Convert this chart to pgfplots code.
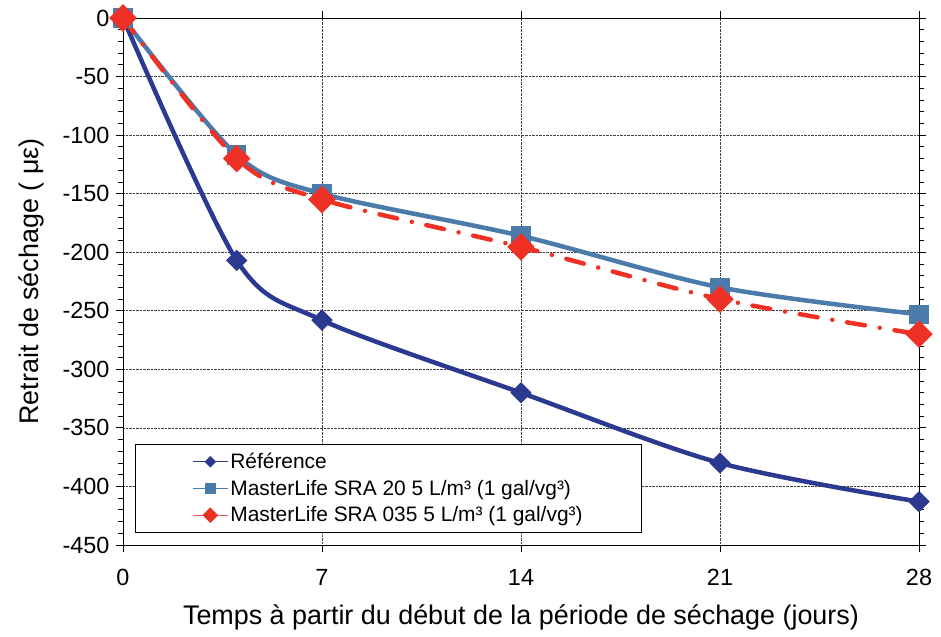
\documentclass[border=0pt]{standalone}
\usepackage{fontspec}
\setmainfont{Liberation Sans}
\usepackage{pgfplots}
\pgfplotsset{compat=1.18}
\definecolor{refblue}{HTML}{2B3990}
\definecolor{sratwenty}{HTML}{4A7BAA}
\definecolor{srared}{HTML}{EE3124}
\begin{document}
\begin{tikzpicture}
\begin{axis}[
  scale only axis, width=796bp, height=527bp,
  at={(0,0)}, anchor=south west,
  xmin=0, xmax=28, ymin=-450, ymax=0,
  xtick={0,7,14,21,28}, ytick={-450,-400,...,0},
  minor y tick num=4,
  tick align=outside, major tick length=7bp, minor tick length=5bp,
  tick style={black, line width=0.8pt},
  axis line style={black, line width=1pt},
  grid=major, major grid style={densely dotted, black!75, line width=0.7pt},
  tick label style={font=\fontsize{23.5}{27}\selectfont},
  /pgf/number format/assume math mode=true,
  xticklabel style={yshift=-14bp},
  yticklabel style={xshift=-3bp},
  xlabel={Temps à partir du début de la période de séchage (jours)},
  ylabel={Retrait de séchage ( με)},
  label style={font=\fontsize{27}{32}\selectfont},
  xlabel style={yshift=-12bp},
  ylabel style={yshift=12bp},
  clip=false,
  legend style={at={(0.015,0.023)}, anchor=south west, draw=black, line width=0.8pt,
    font=\fontsize{21}{25}\selectfont, inner xsep=57bp, inner ysep=7bp, row sep=6bp},
  legend cell align=left,
  legend image code/.code={\draw[mark repeat=2,mark phase=2,#1] plot coordinates {(0bp,0bp)(17.5bp,0bp)(35bp,0bp)};},
]
\addlegendimage{refblue, line width=1pt, mark=square*, mark size=3.6bp, mark options={rotate=45, solid}}
\addlegendentry{Référence}
\addlegendimage{sratwenty, line width=1pt, mark=square*, mark size=5bp, mark options={solid}}
\addlegendentry{MasterLife SRA 20 5 L/m³ (1 gal/vg³)}
\addlegendimage{srared!80, line width=1pt, mark=square*, mark size=5bp, mark options={rotate=45, solid, fill=srared, draw=srared}}
\addlegendentry{MasterLife SRA 035 5 L/m³ (1 gal/vg³)}

\addplot[refblue, line width=4.5bp, smooth, mark=square*, mark size=5.3bp, mark options={rotate=45, solid}, forget plot]
  coordinates {(0,0)(4,-207)(7,-258)(14,-320)(21,-380)(28,-413)};
\addplot[sratwenty, line width=4.5bp, smooth, mark=square*, mark size=7.5bp, mark options={solid}, forget plot]
  coordinates {(0,0)(4,-117)(7,-150)(14,-186)(21,-230)(28,-253)};
\addplot[srared, line width=4.5bp, smooth, line cap=round, dash pattern=on 18bp off 15bp on 0.01bp off 15bp, mark=square*, mark size=7.5bp, mark options={rotate=45, solid}, forget plot]
  coordinates {(0,0)(4,-120)(7,-155)(14,-195.5)(21,-240)(28,-270)};
\end{axis}
\pgfresetboundingbox
\path[use as bounding box] (-123bp,-92bp) rectangle (818bp,545bp);
\end{tikzpicture}
\end{document}
